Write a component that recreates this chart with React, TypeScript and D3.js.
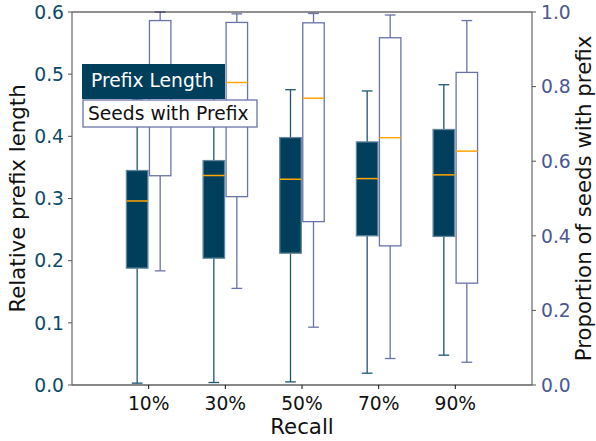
import React from "react";
import * as d3 from "d3";

const categories = ["10%", "30%", "50%", "70%", "90%"];

// Relative prefix length (left axis)
const prefixWhisLo = [0.003, 0.004, 0.005, 0.019, 0.048];
const prefixQ1 = [0.188, 0.204, 0.212, 0.24, 0.239];
const prefixMed = [0.296, 0.337, 0.331, 0.332, 0.338];
const prefixQ3 = [0.345, 0.361, 0.398, 0.391, 0.411];
const prefixWhisHi = [0.46, 0.47, 0.475, 0.473, 0.483];

// Proportion of seeds with prefix (right axis)
const seedsWhisLo = [0.306, 0.259, 0.155, 0.071, 0.061];
const seedsQ1 = [0.561, 0.505, 0.438, 0.373, 0.273];
const seedsMed = [0.78, 0.811, 0.769, 0.663, 0.627];
const seedsQ3 = [0.977, 0.972, 0.971, 0.931, 0.838];
const seedsWhisHi = [1.0, 0.995, 0.996, 0.992, 0.977];

const leftTicks = [0, 0.1, 0.2, 0.3, 0.4, 0.5, 0.6];
const rightTicks = [0, 0.2, 0.4, 0.6, 0.8, 1.0];

const W = 596;
const H = 441;
const M = { left: 72, right: 532, top: 12, bottom: 385 };

const DARK = "#003f5c";
const DARK_EDGE = "#5f8699";
const DARK_WHISK = "#1d5672";
const SLATE = "#4b5795";
const SLATE_EDGE = "#6a73a8";
const ORANGE = "#ffa600";
const FONT = "DejaVu Sans";

export default function App() {
  const x = d3.scaleLinear().domain([0, 6]).range([M.left, M.right]);
  const yL = d3.scaleLinear().domain([0, 0.6]).range([M.bottom, M.top]);
  const yR = d3.scaleLinear().domain([0, 1]).range([M.bottom, M.top]);
  const offset = 0.15;
  const bw = 0.28;
  const pxW = x(bw) - x(0);
  const capW = pxW / 2;

  const box = (
    key: string,
    cx: number,
    lo: number,
    q1: number,
    med: number,
    q3: number,
    hi: number,
    fill: string,
    edge: string,
    whisk: string
  ) => (
    <g key={key}>
      <line x1={cx} x2={cx} y1={q1} y2={lo} stroke={whisk} strokeWidth={1.3} />
      <line x1={cx} x2={cx} y1={q3} y2={hi} stroke={whisk} strokeWidth={1.3} />
      <line x1={cx - capW / 2} x2={cx + capW / 2} y1={lo} y2={lo} stroke={whisk} strokeWidth={1.3} />
      <line x1={cx - capW / 2} x2={cx + capW / 2} y1={hi} y2={hi} stroke={whisk} strokeWidth={1.3} />
      <rect x={cx - pxW / 2} y={q3} width={pxW} height={q1 - q3} fill={fill} stroke={edge} strokeWidth={1.3} />
      <line x1={cx - pxW / 2} x2={cx + pxW / 2} y1={med} y2={med} stroke={ORANGE} strokeWidth={1.5} />
    </g>
  );

  return (
    <div style={{ position: "absolute", left: 0, top: 0 }}>
      <svg width={W} height={H} style={{ display: "block", background: "#fff" }} fontFamily={FONT}>
        <rect width={W} height={H} fill="#fff" />
        {categories.map((c, i) => {
          const p = i + 1;
          return box(
            "d" + i,
            x(p - offset),
            yL(prefixWhisLo[i]),
            yL(prefixQ1[i]),
            yL(prefixMed[i]),
            yL(prefixQ3[i]),
            yL(prefixWhisHi[i]),
            DARK,
            DARK_EDGE,
            DARK_WHISK
          );
        })}
        {categories.map((c, i) => {
          const p = i + 1;
          return box(
            "s" + i,
            x(p + offset),
            yR(seedsWhisLo[i]),
            yR(seedsQ1[i]),
            yR(seedsMed[i]),
            yR(seedsQ3[i]),
            yR(seedsWhisHi[i]),
            "#ffffff",
            SLATE_EDGE,
            SLATE_EDGE
          );
        })}

        {/* spines */}
        <line x1={M.left} x2={M.right} y1={M.top} y2={M.top} stroke="#222" strokeWidth={1.2} />
        <line x1={M.left} x2={M.right} y1={M.bottom} y2={M.bottom} stroke="#111" strokeWidth={1.2} />
        <line x1={M.left} x2={M.left} y1={M.top} y2={M.bottom} stroke="#666" strokeWidth={1.2} />
        <line x1={M.right} x2={M.right} y1={M.top} y2={M.bottom} stroke="#666" strokeWidth={1.2} />

        {/* left axis */}
        {leftTicks.map((t) => (
          <g key={"l" + t}>
            <line x1={M.left - 4} x2={M.left} y1={yL(t)} y2={yL(t)} stroke="#555" strokeWidth={1} />
            <text x={M.left - 8} y={yL(t)} dy="0.36em" textAnchor="end" fontSize={18.7} fill="#0d4a6a">
              {t.toFixed(1)}
            </text>
          </g>
        ))}
        {/* right axis */}
        {rightTicks.map((t) => (
          <g key={"r" + t}>
            <line x1={M.right} x2={M.right + 4} y1={yR(t)} y2={yR(t)} stroke="#555" strokeWidth={1} />
            <text x={M.right + 9} y={yR(t)} dy="0.36em" textAnchor="start" fontSize={18.7} fill={SLATE}>
              {t.toFixed(1)}
            </text>
          </g>
        ))}
        {/* x axis */}
        {categories.map((c, i) => (
          <g key={"x" + c}>
            <line x1={x(i + 1)} x2={x(i + 1)} y1={M.bottom} y2={M.bottom + 4} stroke="#111" strokeWidth={1} />
            <text x={x(i + 1)} y={M.bottom + 25} textAnchor="middle" fontSize={18.7} fill="#111">
              {c}
            </text>
          </g>
        ))}

        <text x={(M.left + M.right) / 2} y={434} textAnchor="middle" fontSize={21.3} fill="#111">
          Recall
        </text>
        <text
          transform={`translate(25,${(M.top + M.bottom) / 2}) rotate(-90)`}
          textAnchor="middle"
          fontSize={21.3}
          fill="#111"
        >
          Relative prefix length
        </text>
        <text
          transform={`translate(590.5,${(M.top + M.bottom) / 2}) rotate(-90)`}
          textAnchor="middle"
          fontSize={21.3}
          fill="#111"
        >
          Proportion of seeds with prefix
        </text>

        {/* legend labels */}
        <rect x={82} y={64} width={143} height={35} fill={DARK} />
        <text x={91} y={87} fontSize={18.7} fill="#fff">
          Prefix Length
        </text>
        <rect x={83} y={100} width={174} height={27} fill="#fff" stroke={SLATE_EDGE} strokeWidth={1.3} />
        <text x={88} y={119.5} fontSize={18.7} fill="#111">
          Seeds with Prefix
        </text>
      </svg>
    </div>
  );
}
